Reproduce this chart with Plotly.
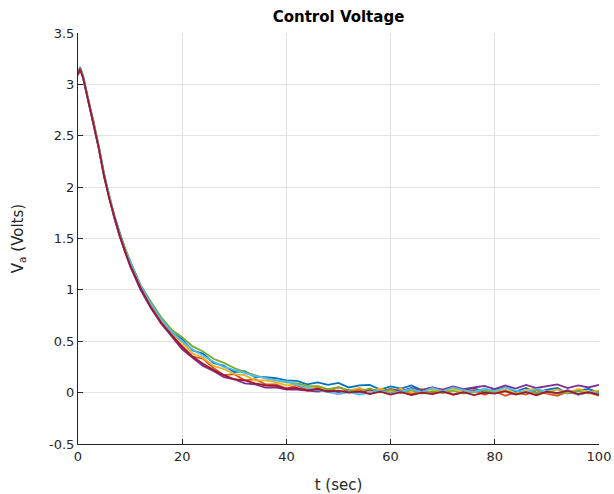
import plotly.graph_objects as go

# sample times (sec)
t = [0, 0.4, 1, 2, 3, 4, 5, 6, 7, 8, 9, 10, 12, 14, 16, 18,
     20, 22, 24, 26, 28, 30, 32, 34, 36, 38, 40, 42, 44, 46, 48, 50, 52, 54, 56, 58,
     60, 62, 64, 66, 68, 70, 72, 74, 76, 78, 80, 82, 84, 86, 88, 90, 92, 94, 96, 98, 100]

run_1 = [3.10, 3.17, 3.07, 2.85, 2.63, 2.38, 2.13, 1.90, 1.72, 1.56, 1.40, 1.28, 1.04, 0.88, 0.72, 0.59,
         0.52, 0.41, 0.38, 0.29, 0.26, 0.20, 0.21, 0.15, 0.15, 0.14,
         0.12, 0.115, 0.08, 0.10, 0.075, 0.095, 0.05, 0.07, 0.075, 0.03,
         0.06, 0.04, 0.07, 0.025, 0.05, 0.015, 0.055, 0.025, 0.045, 0.0,
         0.035, 0.055, 0.01, 0.045, -0.005, 0.03, 0.045, -0.01, 0.02, 0.035, 0.0]
run_2 = [3.11, 3.16, 3.08, 2.83, 2.64, 2.39, 2.11, 1.91, 1.70, 1.54, 1.37, 1.26, 1.01, 0.84, 0.67, 0.56,
         0.46, 0.35, 0.33, 0.24, 0.17, 0.18, 0.12, 0.13, 0.08, 0.08,
         0.04, 0.07, 0.03, 0.045, 0.005, 0.055, 0.01, 0.04, -0.01, 0.025,
         -0.005, 0.04, -0.015, 0.015, -0.005, 0.03, -0.02, 0.005, 0.025, -0.02,
         0.015, -0.03, 0.0, -0.02, 0.025, -0.01, -0.03, 0.01, -0.02, 0.0, -0.03]
run_3 = [3.10, 3.15, 3.06, 2.84, 2.62, 2.40, 2.12, 1.89, 1.71, 1.53, 1.39, 1.25, 1.03, 0.86, 0.70, 0.57,
         0.49, 0.38, 0.34, 0.26, 0.23, 0.18, 0.17, 0.12, 0.12, 0.10,
         0.07, 0.08, 0.045, 0.065, 0.03, 0.05, 0.02, 0.045, 0.01, 0.04,
         0.01, 0.035, 0.0, 0.035, 0.03, 0.0, 0.04, 0.01, 0.0, 0.035,
         0.005, 0.03, -0.01, 0.025, 0.04, 0.0, 0.03, -0.005, 0.035, 0.005, 0.02]
run_4 = [3.09, 3.15, 3.06, 2.83, 2.61, 2.37, 2.10, 1.88, 1.69, 1.52, 1.37, 1.23, 1.00, 0.82, 0.67, 0.55,
         0.42, 0.34, 0.26, 0.21, 0.15, 0.13, 0.09, 0.08, 0.05, 0.05,
         0.03, 0.03, 0.02, 0.01, 0.025, 0.005, 0.02, 0.0, 0.03, 0.01,
         0.035, 0.015, 0.045, 0.025, 0.05, 0.03, 0.06, 0.035, 0.05, 0.065,
         0.035, 0.07, 0.04, 0.075, 0.045, 0.065, 0.08, 0.045, 0.07, 0.05, 0.075]
run_5 = [3.11, 3.16, 3.08, 2.85, 2.64, 2.40, 2.13, 1.91, 1.72, 1.55, 1.41, 1.28, 1.05, 0.88, 0.73, 0.61,
         0.54, 0.45, 0.40, 0.33, 0.29, 0.24, 0.20, 0.17, 0.14, 0.12,
         0.10, 0.09, 0.065, 0.06, 0.035, 0.05, 0.025, 0.01, 0.04, 0.005,
         0.03, -0.005, 0.025, -0.01, 0.015, -0.005, 0.02, -0.01, 0.01, 0.025,
         -0.005, 0.015, -0.015, 0.01, 0.0, 0.02, -0.01, 0.01, 0.015, -0.01, 0.005]
run_6 = [3.10, 3.16, 3.07, 2.84, 2.63, 2.39, 2.12, 1.90, 1.71, 1.54, 1.39, 1.27, 1.04, 0.86, 0.71, 0.59,
         0.50, 0.42, 0.36, 0.30, 0.25, 0.22, 0.19, 0.16, 0.14, 0.12,
         0.11, 0.075, 0.045, 0.025, 0.005, -0.015, 0.005, -0.02, 0.0, 0.02,
         -0.01, 0.015, 0.035, 0.005, 0.045, 0.015, 0.05, 0.025, 0.005, 0.04,
         0.015, 0.05, 0.02, 0.0, 0.035, 0.01, -0.005, 0.025, -0.02, 0.005, -0.01]
run_7 = [3.10, 3.15, 3.06, 2.82, 2.61, 2.38, 2.11, 1.89, 1.70, 1.53, 1.38, 1.24, 1.02, 0.83, 0.68, 0.56,
         0.44, 0.35, 0.28, 0.22, 0.17, 0.13, 0.12, 0.09, 0.07, 0.065,
         0.04, 0.045, 0.02, 0.035, 0.01, 0.02, 0.0, 0.015, -0.015, 0.01,
         -0.02, 0.005, -0.025, 0.0, -0.015, 0.01, -0.02, 0.005, -0.025, 0.0,
         -0.01, 0.015, -0.02, 0.005, -0.025, 0.01, -0.005, 0.02, -0.015, 0.005, -0.02]

runs = [run_1, run_2, run_3, run_4, run_5, run_6, run_7]
colors = ["#0072BD", "#D95319", "#EDB120", "#7E2F8E", "#77AC30", "#4DBEEE", "#A2142F"]

x_ticks = [0, 20, 40, 60, 80, 100]
x_labels = ["0", "20", "40", "60", "80", "100"]
y_ticks = [-0.5, 0, 0.5, 1, 1.5, 2, 2.5, 3, 3.5]
y_labels = ["-0.5", "0", "0.5", "1", "1.5", "2", "2.5", "3", "3.5"]

fig = go.Figure()
for r, c in zip(runs, colors):
    fig.add_trace(go.Scatter(x=t, y=r, mode="lines",
                             line=dict(color=c, width=1.8), showlegend=False))

axis_common = dict(
    showgrid=True, gridcolor="#e3e3e3", gridwidth=1,
    showline=True, linecolor="#262626", linewidth=1,
    ticks="inside", ticklen=5, tickcolor="#262626",
    tickfont=dict(family="DejaVu Sans", size=13, color="#262626"),
    zeroline=False, mirror=False, automargin=False,
)

fig.update_layout(
    width=614, height=494,
    margin=dict(l=78, r=15, t=33, b=50),
    paper_bgcolor="white", plot_bgcolor="white",
    title=dict(text="<b>Control Voltage</b>", x=0.5, xref="paper",
               y=1 - 17 / 494, yref="container", yanchor="middle",
               font=dict(family="DejaVu Sans", size=15, color="black")),
    xaxis=dict(range=[0, 100], tickvals=x_ticks, ticktext=x_labels,
               title=dict(text="t (sec)", standoff=16,
                          font=dict(family="DejaVu Sans", size=15, color="#262626")),
               **axis_common),
    yaxis=dict(range=[-0.5, 3.5], tickvals=y_ticks, ticktext=y_labels,
               title=dict(text="V<sub>a</sub> (Volts)", standoff=21,
                          font=dict(family="DejaVu Sans", size=15, color="#262626")),
               **axis_common),
)

# remove the default page margin so the figure fills the 614x494 window exactly
fig.write_html("out.html",
               config={"displayModeBar": False},
               post_script="document.body.style.margin='0';document.body.style.overflow='hidden';")
